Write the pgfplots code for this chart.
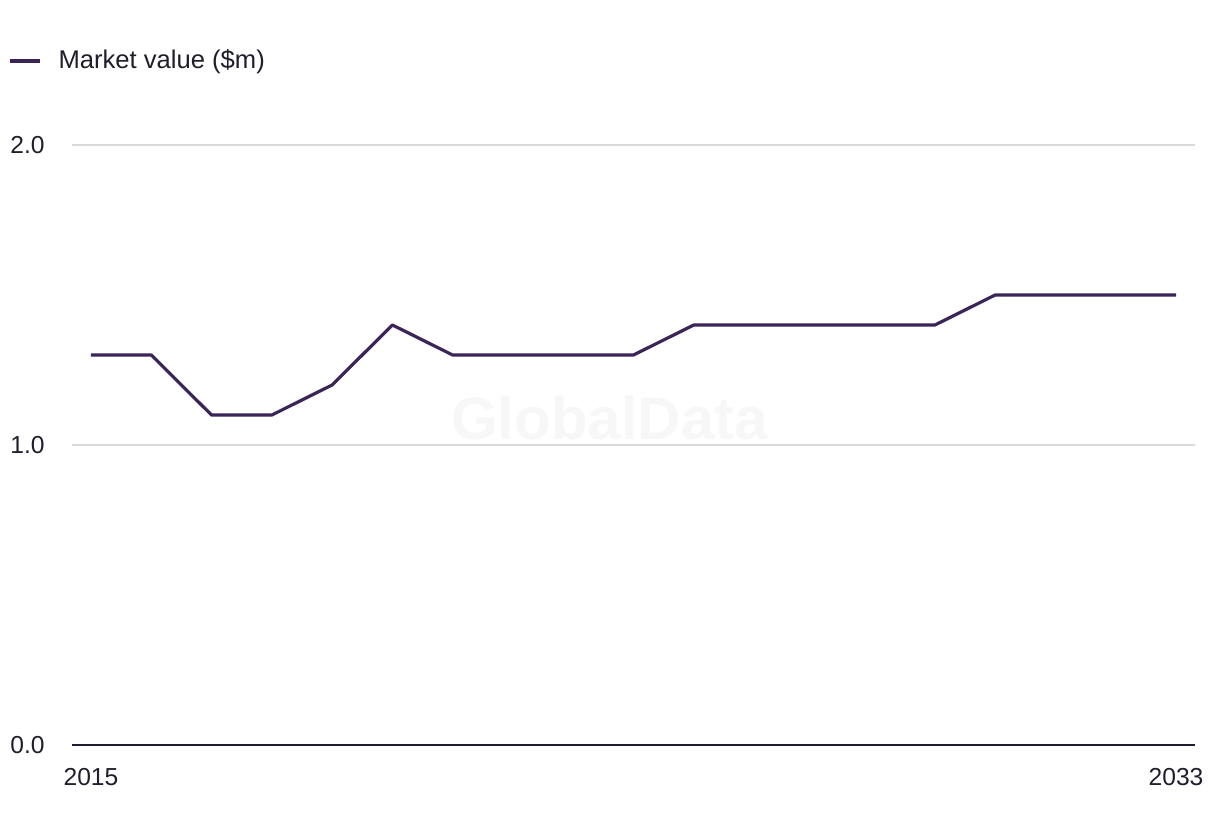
\documentclass[border=0pt]{standalone}
\usepackage{pgfplots}
\pgfplotsset{compat=1.18}
\usepackage{fontspec}
\setmainfont{Liberation Sans}
\definecolor{linec}{HTML}{3B2458}
\definecolor{textc}{HTML}{1E1E2C}
\definecolor{gridc}{HTML}{D9D9D9}
\definecolor{wmc}{HTML}{F7F7F7}
\pgfplotstableread{
year value
2015 1.3
2016 1.3
2017 1.1
2018 1.1
2019 1.2
2020 1.4
2021 1.3
2022 1.3
2023 1.3
2024 1.3
2025 1.4
2026 1.4
2027 1.4
2028 1.4
2029 1.4
2030 1.5
2031 1.5
2032 1.5
2033 1.5
}\datatable
\begin{document}
\begin{tikzpicture}
\useasboundingbox (0,0) rectangle (610pt,418pt);
\begin{axis}[
  at={(36pt,45.5pt)}, anchor=south west,
  scale only axis,
  width=561.5pt, height=300pt,
  xmin=2014.685, xmax=2033.315,
  ymin=0, ymax=2,
  axis x line=bottom, axis y line=left,
  x axis line style={textc, line width=1pt, -},
  y axis line style={draw=none},
  xtick={2015,2033},
  xticklabels={2015,2033},
  ytick={0,1,2},
  yticklabels={0.0,1.0,2.0},
  major tick length=0pt,
  ymajorgrids,
  grid style={gridc, line width=0.6pt},
  tick label style={font=\fontsize{12.3pt}{14pt}\selectfont, text=textc},
  xticklabel style={anchor=north, inner sep=0pt, yshift=-11.5pt},
  yticklabel style={anchor=west, inner sep=0pt, xshift=-31pt},
  /pgf/number format/assume math mode=true,
  legend style={at={(-0.057,1.14)}, anchor=west, draw=none, fill=none,
    font=\fontsize{12.8pt}{14pt}\selectfont, text=textc, inner sep=0pt,
    /tikz/every even column/.append style={column sep=0pt}},
  legend image code/.code={\draw[#1, line width=1.6pt] (0pt,0pt) -- (15pt,0pt);},
  legend cell align=left,
  clip=false,
]
\node[font=\bfseries\fontsize{30pt}{32pt}\selectfont, text=wmc] at (axis cs:2023.6,1.09) {GlobalData};
\addplot[linec, line width=1.6pt, line join=round] table[x=year, y=value] {\datatable};
\addlegendentry{\hspace{6.5pt}Market value (\$m)}
\end{axis}
\end{tikzpicture}
\end{document}
